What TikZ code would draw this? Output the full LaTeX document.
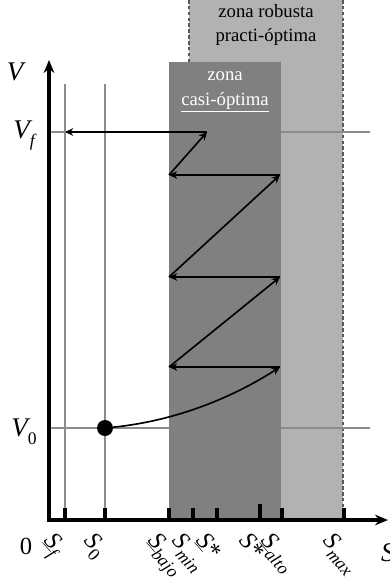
\documentclass[tikz,border=0pt]{standalone}
\usepackage{fontspec}
\setmainfont{Liberation Serif}
\usetikzlibrary{arrows.meta}

\newcommand\tsub[1]{\raisebox{-0.3em}{\fontsize{15}{15}\selectfont #1}}

\begin{document}
\begin{tikzpicture}[x=0.03cm,y=-0.03cm,
  zonelight/.style={fill=black!30},
  zonedark/.style={fill=black!50},
  zoneedge/.style={draw=black!65,dashed,line width=1.1pt,dash pattern=on 3pt off 2pt},
  guide/.style={draw=black!45,line width=0.9pt},
  axis/.style={line width=2.6pt,-{Stealth[length=11pt,width=9pt]}},
  tickmark/.style={line width=3.6pt},
  arr/.style={line width=1.4pt,-{Stealth[length=7pt,width=6.5pt]}},
  dot/.style={circle,fill=black,inner sep=0pt,minimum size=0.48cm},
  ticklabel/.style={anchor=north west,rotate=-48,inner sep=0pt,
                    font=\fontsize{21}{22}\selectfont\itshape},
  axislabel/.style={font=\fontsize{23}{24}\selectfont\itshape,inner sep=0pt},
  zonetext/.style={font=\fontsize{16}{21}\selectfont,align=center},
]
\clip (0,0) rectangle (390,583);

% Zona robusta (light)
\fill[zonelight] (189,0) rectangle (343,520);
\draw[zoneedge] (189,0) -- (189,62);
\draw[zoneedge] (343,0) -- (343,520);
\node[zonetext] (robusta) at (266,25) {zona robusta\\practi-óptima};

% Level lines V_f and V_0
\draw[guide] (49,132) -- (370,132);
\draw[guide] (49,428) -- (370,428);

% Zona casi-optima (dark)
\fill[zonedark] (169,62) rectangle (281,520);
\node[zonetext,text=white] (casi) at (225,92) {zona\\\underline{casi-óptima}};

% Level lines S_f and S_0
\draw[guide] (65,84) -- (65,520);
\draw[guide] (105,84) -- (105,520);

% Axes
\draw[axis] (49,522) -- (49,60);
\draw[axis] (47,520) -- (388,520);
\node[axislabel] (vlab) at (15,72) {V};
\node[axislabel] (vf) at (24,136) {V\tsub{f}};
\node[axislabel] (v0) at (24,432) {V\tsub{\upshape 0}};
\node[axislabel,font=\fontsize{21}{22}\selectfont] (zero) at (26,546) {0};
\node[axislabel,anchor=west] (slab) at (381,553) {S};

% Ticks
\foreach \x/\h in {65/12,105/12,169/12,193/12,217/12,260/16,282/12,344/12}
  \draw[tickmark] (\x,521) -- (\x,520-\h);

% Tick labels
\node[ticklabel] (sf) at (56,530) {\underline{S}\tsub{f}};
\node[ticklabel] (s0) at (96,530) {S\tsub{\upshape 0}};
\node[ticklabel] (sbajo) at (160,530) {\underline{S}\tsub{bajo}};
\node[ticklabel] (smin) at (184,530) {S\tsub{min}};
\node[ticklabel] (slow) at (208,530) {\underline{S}\raisebox{-2pt}{*}};
\node[ticklabel] (sup) at (251,530) {S\raisebox{-2pt}{*}};
\node[ticklabel] (salto) at (273,530) {\underline{S}\tsub{alto}};
\node[ticklabel] (smax) at (335,530) {S\tsub{max}};

% Trajectory
\node[dot] (p0) at (105,428) {};
\coordinate (a1) at (280,367);
\coordinate (b1) at (169,367);
\coordinate (a2) at (280,277);
\coordinate (b2) at (169,277);
\coordinate (a3) at (280,175);
\coordinate (b3) at (169,175);
\coordinate (c4) at (207,132);
\coordinate (f4) at (65,132);

\draw[arr] (p0) .. controls (175,421) and (232,398) .. (a1);
\draw[arr] (a1) -- (b1);
\draw[arr] (b1) -- (a2);
\draw[arr] (a2) -- (b2);
\draw[arr] (b2) -- (a3);
\draw[arr] (a3) -- (b3);
\draw[arr] (b3) -- (c4);
\draw[arr] (c4) -- (f4);

\end{tikzpicture}
\end{document}
